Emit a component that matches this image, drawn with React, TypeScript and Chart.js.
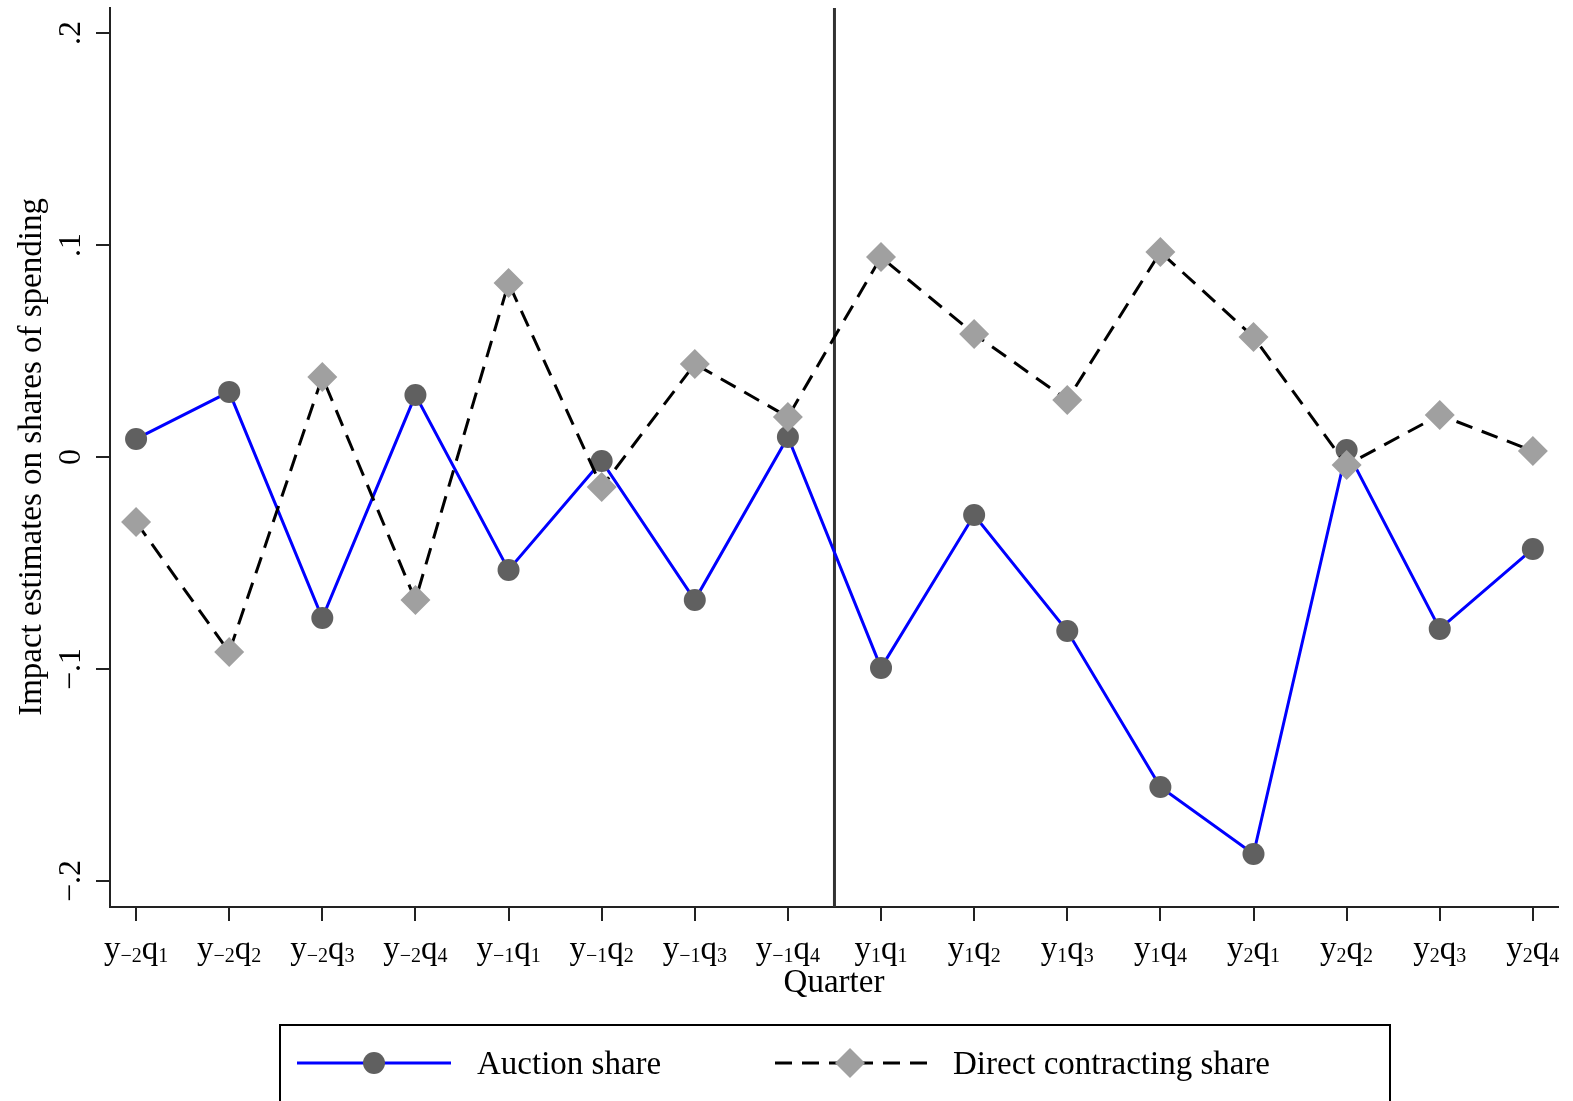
import React, { useEffect, useRef } from "react";
import { Chart, registerables } from "chart.js";

Chart.register(...registerables);

// ---- data ----
const yearSubs = ["−2", "−2", "−2", "−2", "−1", "−1", "−1", "−1", "1", "1", "1", "1", "2", "2", "2", "2"];
const quarterSubs = ["1", "2", "3", "4", "1", "2", "3", "4", "1", "2", "3", "4", "1", "2", "3", "4"];
const auctionShare = [0.0085, 0.0307, -0.076, 0.0292, -0.0533, -0.0019, -0.0675, 0.0094, -0.0995, -0.0274, -0.0821, -0.1557, -0.1873, 0.0033, -0.0811, -0.0434];
const directShare = [-0.0307, -0.092, 0.0377, -0.0675, 0.0821, -0.0142, 0.0439, 0.0189, 0.0943, 0.058, 0.0269, 0.0967, 0.0566, -0.0038, 0.0198, 0.0028];
const yTickValues = [-0.2, -0.1, 0, 0.1, 0.2];
const yTickLabels = ["−.2", "−.1", "0", ".1", ".2"];
const treatmentPosition = 7.5;
const yTitle = "Impact estimates on shares of spending";
const xTitle = "Quarter";
const legendLabels = ["Auction share", "Direct contracting share"];

const SERIF = '"Liberation Serif", "Times New Roman", serif';
const AXIS_COLOR = "#222";

const decorPlugin = {
  id: "decor",
  beforeDatasetsDraw(chart: any) {
    const ctx = chart.ctx;
    const x = chart.scales.x;
    const area = chart.chartArea;
    const px = x.getPixelForValue(treatmentPosition);
    ctx.save();
    ctx.strokeStyle = "#333";
    ctx.lineWidth = 3;
    ctx.beginPath();
    ctx.moveTo(px, area.top);
    ctx.lineTo(px, area.bottom);
    ctx.stroke();
    ctx.restore();
  },
  afterDraw(chart: any) {
    const ctx = chart.ctx;
    const x = chart.scales.x;
    const y = chart.scales.y;
    const area = chart.chartArea;
    ctx.save();
    ctx.fillStyle = "#000";
    ctx.textBaseline = "alphabetic";

    // x tick labels with subscripts
    const mainSize = 33;
    const subSize = 20;
    const baseY = area.bottom + 52;
    for (let i = 0; i < yearSubs.length; i++) {
      const parts: [string, boolean][] = [["y", false], [yearSubs[i], true], ["q", false], [quarterSubs[i], true]];
      let total = 0;
      const widths: number[] = [];
      for (const [t, sub] of parts) {
        ctx.font = `${sub ? subSize : mainSize}px ${SERIF}`;
        const w = ctx.measureText(t).width;
        widths.push(w);
        total += w;
      }
      let cx = x.getPixelForValue(i) - total / 2;
      ctx.textAlign = "left";
      parts.forEach(([t, sub], k) => {
        ctx.font = `${sub ? subSize : mainSize}px ${SERIF}`;
        ctx.fillText(t, cx, baseY + (sub ? 3 : 0));
        cx += widths[k];
      });
    }

    // x title
    ctx.font = `33px ${SERIF}`;
    ctx.textAlign = "center";
    ctx.fillText(xTitle, (area.left + area.right) / 2, baseY + 33);

    // y tick labels (rotated)
    for (let i = 0; i < yTickValues.length; i++) {
      const py = y.getPixelForValue(yTickValues[i]);
      ctx.save();
      ctx.translate(80, py);
      ctx.rotate(-Math.PI / 2);
      ctx.font = `32px ${SERIF}`;
      ctx.textAlign = "center";
      ctx.fillText(yTickLabels[i], 0, 0);
      ctx.restore();
    }

    // y title
    ctx.save();
    ctx.translate(41, y.getPixelForValue(0));
    ctx.rotate(-Math.PI / 2);
    ctx.font = `33px ${SERIF}`;
    ctx.textAlign = "center";
    ctx.fillText(yTitle, 0, 0);
    ctx.restore();

    // legend box
    ctx.strokeStyle = "#000";
    ctx.lineWidth = 2;
    ctx.strokeRect(280, 1025, 1110, 90);
    const ly = 1063;
    // auction entry
    ctx.strokeStyle = "#0000ff";
    ctx.lineWidth = 3;
    ctx.setLineDash([]);
    ctx.beginPath();
    ctx.moveTo(297, ly);
    ctx.lineTo(451, ly);
    ctx.stroke();
    ctx.fillStyle = "#606060";
    ctx.beginPath();
    ctx.arc(374, ly, 11, 0, Math.PI * 2);
    ctx.fill();
    // direct entry
    ctx.strokeStyle = "#000";
    ctx.setLineDash([17, 10]);
    ctx.beginPath();
    ctx.moveTo(775, ly);
    ctx.lineTo(928, ly);
    ctx.stroke();
    ctx.setLineDash([]);
    ctx.fillStyle = "#a0a0a0";
    ctx.beginPath();
    ctx.moveTo(850, ly - 15);
    ctx.lineTo(865, ly);
    ctx.lineTo(850, ly + 15);
    ctx.lineTo(835, ly);
    ctx.closePath();
    ctx.fill();
    ctx.fillStyle = "#000";
    ctx.font = `33px ${SERIF}`;
    ctx.textAlign = "left";
    ctx.fillText(legendLabels[0], 477, ly + 11);
    ctx.fillText(legendLabels[1], 953, ly + 11);
    ctx.restore();
  },
};

export default function App() {
  const ref = useRef<HTMLCanvasElement | null>(null);
  useEffect(() => {
    if (!ref.current) return;
    const idx = auctionShare.map((_, i) => i);
    const chart = new Chart(ref.current, {
      type: "line",
      data: {
        datasets: [
          {
            label: legendLabels[0],
            data: idx.map((i) => ({ x: i, y: auctionShare[i] })),
            borderColor: "#0000ff",
            borderWidth: 3,
            backgroundColor: "#606060",
            pointBackgroundColor: "#606060",
            pointBorderWidth: 0,
            pointRadius: 11,
            pointStyle: "circle",
            tension: 0,
            order: 2,
            clip: false,
          },
          {
            label: legendLabels[1],
            data: idx.map((i) => ({ x: i, y: directShare[i] })),
            borderColor: "#000",
            borderWidth: 3,
            borderDash: [17, 10],
            backgroundColor: "#a0a0a0",
            pointBackgroundColor: "#a0a0a0",
            pointBorderWidth: 0,
            pointRadius: 15,
            pointStyle: "rectRot",
            tension: 0,
            order: 1,
            clip: false,
          },
        ],
      },
      options: {
        animation: false,
        responsive: false,
        devicePixelRatio: 1,
        layout: { autoPadding: false, padding: { left: 96, top: 8, right: 15, bottom: 180 } },
        plugins: { legend: { display: false }, tooltip: { enabled: false } },
        scales: {
          x: {
            type: "linear",
            min: -0.28,
            max: 15.27,
            afterBuildTicks: (s: any) => {
              s.ticks = idx.map((v) => ({ value: v }));
            },
            ticks: { display: false },
            grid: { drawOnChartArea: false, drawTicks: true, tickLength: 14, color: AXIS_COLOR, lineWidth: 2 },
            border: { display: true, color: AXIS_COLOR, width: 2 },
          },
          y: {
            type: "linear",
            min: -0.2123,
            max: 0.2118,
            afterBuildTicks: (s: any) => {
              s.ticks = yTickValues.map((v) => ({ value: v }));
            },
            ticks: { display: false },
            grid: { drawOnChartArea: false, drawTicks: true, tickLength: 14, color: AXIS_COLOR, lineWidth: 2 },
            border: { display: true, color: AXIS_COLOR, width: 2 },
          },
        },
      },
      plugins: [decorPlugin],
    } as any);
    return () => chart.destroy();
  }, []);
  return (
    <div style={{ position: "absolute", left: 0, top: 0, width: 1573, height: 1101, background: "#fff" }}>
      <canvas ref={ref} width={1573} height={1101} style={{ display: "block" }} />
    </div>
  );
}
